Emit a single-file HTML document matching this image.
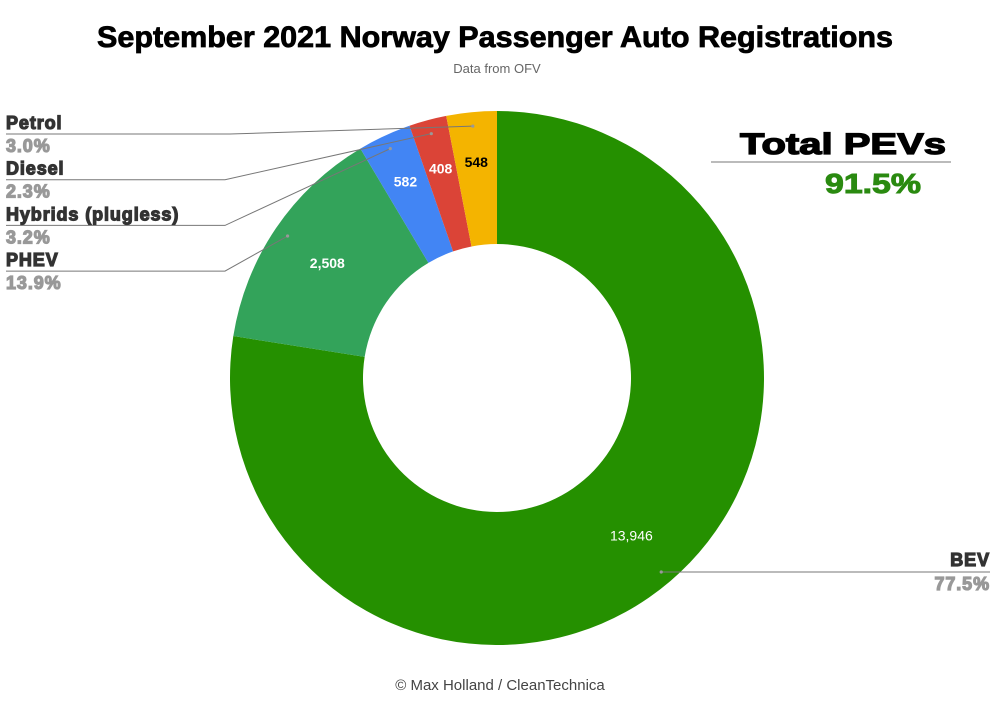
<!DOCTYPE html>
<html><head><meta charset="utf-8"><style>
body{margin:0;background:#fff;width:1000px;height:716px;overflow:hidden;font-family:"Liberation Sans",sans-serif}
</style></head><body>
<svg id="chart" width="1000" height="716" viewBox="0 0 1000 716" xmlns="http://www.w3.org/2000/svg" font-family="Liberation Sans, sans-serif">
<text x="495" y="47" text-anchor="middle" font-size="30" font-weight="bold" fill="#000" stroke="#000" stroke-width="0.8" textLength="796" lengthAdjust="spacingAndGlyphs">September 2021 Norway Passenger Auto Registrations</text>
<text x="497" y="73" text-anchor="middle" font-size="13" fill="#666">Data from OFV</text>
<g id="slices"></g>
<g id="labels"></g>
<g>
<text x="843" y="154" text-anchor="middle" font-size="30" font-weight="bold" fill="#000" stroke="#000" stroke-width="1.3" textLength="206" lengthAdjust="spacingAndGlyphs">Total PEVs</text>
<line x1="711" y1="162" x2="951" y2="162" stroke="#777" stroke-width="1"/>
<text x="873" y="193" text-anchor="middle" font-size="28" font-weight="bold" fill="#2a8a10" stroke="#2a8a10" stroke-width="1" textLength="96" lengthAdjust="spacingAndGlyphs">91.5%</text>
</g>
<text x="500" y="690" text-anchor="middle" font-size="15" fill="#444">© Max Holland / CleanTechnica</text>
</svg>
<script>
const categories=["BEV","PHEV","Hybrids (plugless)","Diesel","Petrol"];
const values=[13946,2508,582,408,548];
const valueLabels=["13,946","2,508","582","408","548"];
const percentLabels=["77.5%","13.9%","3.2%","2.3%","3.0%"];
const colors=["#259000","#33a35a","#4285f4","#db4437","#f4b400"];
const textColors=["#fff","#fff","#fff","#fff","#000"];
const NS="http://www.w3.org/2000/svg";
const cx=497,cy=378,R=267,r=134;
const total=values.reduce((a,b)=>a+b,0);
function pt(a,rad){return [cx+rad*Math.sin(a),cy-rad*Math.cos(a)];}
const sg=document.getElementById('slices'),lg=document.getElementById('labels');
let acc=0;
const mids=[];
values.forEach((v,i)=>{
  const a0=acc/total*2*Math.PI; acc+=v; const a1=acc/total*2*Math.PI;
  const large=(a1-a0)>Math.PI?1:0;
  const p0=pt(a0,R),p1=pt(a1,R),q1=pt(a1,r),q0=pt(a0,r);
  const p=document.createElementNS(NS,'path');
  p.setAttribute('d',`M${p0}A${R},${R} 0 ${large} 1 ${p1}L${q1}A${r},${r} 0 ${large} 0 ${q0}Z`);
  p.setAttribute('fill',colors[i]);
  
  
  sg.appendChild(p);
  const m=(a0+a1)/2; mids.push(m);
  const lp=pt(m,i===0?207:(i===1?205:217));
  const t=document.createElementNS(NS,'text');
  t.setAttribute('x',lp[0]);t.setAttribute('y',lp[1]+5);
  t.setAttribute('text-anchor','middle');t.setAttribute('font-size','14');
  t.setAttribute('font-weight',i===0?'normal':'bold');t.setAttribute('fill',textColors[i]);
  
  
  t.textContent=valueLabels[i];
  lg.appendChild(t);
});
function add(tag,attrs,name){const e=document.createElementNS(NS,tag);for(const k in attrs)e.setAttribute(k,attrs[k]);
  
  
  lg.appendChild(e);return e;}
const leftOrder=[4,3,2,1];
leftOrder.forEach((idx,j)=>{
  const ly=134+j*45.7;
  const d=pt(mids[idx],R-14);
  add('polyline',{points:`6,${ly} ${j===0?230:225},${ly} ${d[0]},${d[1]}`,fill:'none',stroke:'#777','stroke-width':1},'leader-'+idx);
  add('circle',{cx:d[0],cy:d[1],r:1.6,fill:'#999'},'leader-dot-'+idx);
  const t=add('text',{x:6,y:ly-5,'font-size':18,'font-weight':'bold',fill:'#333',stroke:'#333','stroke-width':1.2,'letter-spacing':0.9},'category-label-'+idx);t.textContent=categories[idx];
  const t2=add('text',{x:6,y:ly+18,'font-size':18,'font-weight':'bold',fill:'#999',stroke:'#999','stroke-width':1.2,'letter-spacing':0.9},'percent-label-'+idx);t2.textContent=percentLabels[idx];
});
const bd=pt(mids[0],R-14);
add('line',{x1:bd[0],y1:572,x2:990,y2:572,stroke:'#777','stroke-width':1},'leader-bev');
add('circle',{cx:bd[0],cy:572,r:1.6,fill:'#999'},'leader-dot-bev');
const b1=add('text',{x:990,y:566,'text-anchor':'end','font-size':18,'font-weight':'bold',fill:'#333',stroke:'#333','stroke-width':1.2,'letter-spacing':0.9},'category-label-bev');b1.textContent=categories[0];
const b2=add('text',{x:990,y:590,'text-anchor':'end','font-size':18,'font-weight':'bold',fill:'#999',stroke:'#999','stroke-width':1.2,'letter-spacing':0.9},'percent-label-bev');b2.textContent=percentLabels[0];
</script>
</body></html>
